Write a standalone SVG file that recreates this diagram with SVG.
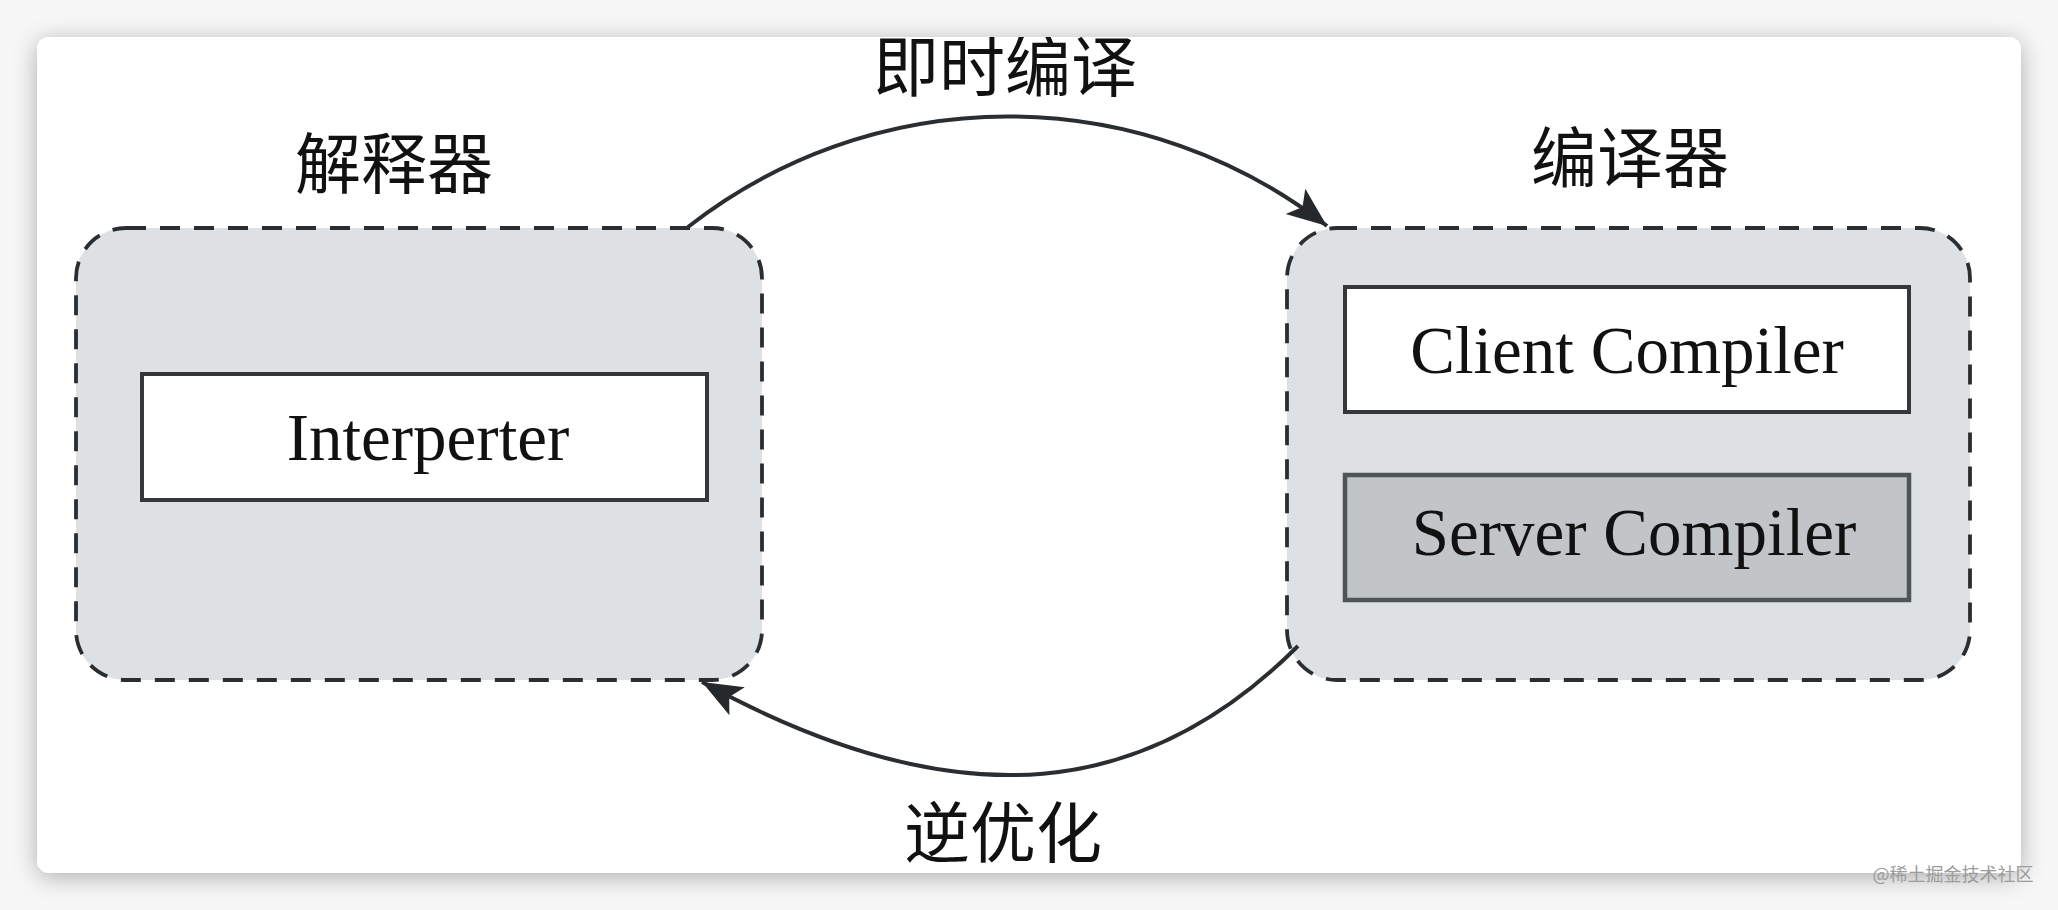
<svg xmlns="http://www.w3.org/2000/svg" width="2058" height="910" viewBox="0 0 2058 910">
  <style>
    .dash { fill: #dde1e3; stroke: #2b2e30; stroke-width: 3.8; stroke-dasharray: 20 14; }
    .inner { stroke: #34383a; stroke-width: 4; }
    .en { font-family: "Liberation Serif", "Times New Roman", serif; font-size: 67px; fill: #111111; text-anchor: middle; }
    .zh { font-family: "Liberation Serif", "Noto Sans CJK SC", sans-serif; font-size: 66px; fill: #111111; text-anchor: middle; }
    .conn { fill: none; stroke: #2b2e30; stroke-width: 4; }
  </style>
  <defs>
    <filter id="shadow" x="-5%" y="-10%" width="110%" height="120%">
      <feDropShadow dx="0" dy="4" stdDeviation="12" flood-color="#000" flood-opacity="0.3"/>
    </filter>
    <clipPath id="cardclip">
      <rect x="37" y="37" width="1984" height="836" rx="12"/>
    </clipPath>
    <marker id="arrow" markerUnits="userSpaceOnUse" viewBox="-42 -18 44 36" markerWidth="44" markerHeight="36" refX="0" refY="0" orient="auto">
      <path d="M0,0 L-40,-16 L-31,0 L-40,16 Z" fill="#26292b"/>
    </marker>
  </defs>

  <rect x="0" y="0" width="2058" height="910" fill="#f7f7f7"/>
  <rect id="card" x="37" y="37" width="1984" height="836" rx="12" fill="#ffffff" filter="url(#shadow)"/>

  <g clip-path="url(#cardclip)">
    <g id="interpreter-group">
      <rect x="76" y="228" width="686" height="452" rx="50" class="dash"/>
      <text x="394" y="188" class="zh">解释器</text>
    </g>
    <g id="interpreter">
      <rect x="142" y="374" width="565" height="126" fill="#ffffff" class="inner"/>
      <text x="428" y="460" class="en">Interperter</text>
    </g>

    <g id="compiler-group">
      <rect x="1287" y="228" width="683" height="452" rx="50" class="dash"/>
      <text x="1630" y="182" class="zh">编译器</text>
    </g>
    <g id="client-compiler">
      <rect x="1345" y="287" width="564" height="125" fill="#ffffff" class="inner"/>
      <text x="1627" y="373" class="en">Client Compiler</text>
    </g>
    <g id="server-compiler">
      <rect x="1345" y="475" width="564" height="125" fill="#c2c5c7" stroke="#4d5557" stroke-width="4.5"/>
      <text x="1634" y="555" class="en">Server Compiler</text>
    </g>

    <g id="connectors">
      <path d="M688,227 A519,519 0 0 1 1327,226" class="conn" marker-end="url(#arrow)"/>
      <path d="M1298,646 C1149.5,794.5 965,826 702,682" class="conn" marker-end="url(#arrow)"/>
      <text x="1005" y="91" class="zh">即时编译</text>
      <text x="1003" y="857" class="zh">逆优化</text>
    </g>
  </g>

  <text x="1953" y="881" font-family="Noto Sans CJK SC, sans-serif" font-size="18" fill="#9c9c9c" text-anchor="middle">@稀土掘金技术社区</text>
</svg>
